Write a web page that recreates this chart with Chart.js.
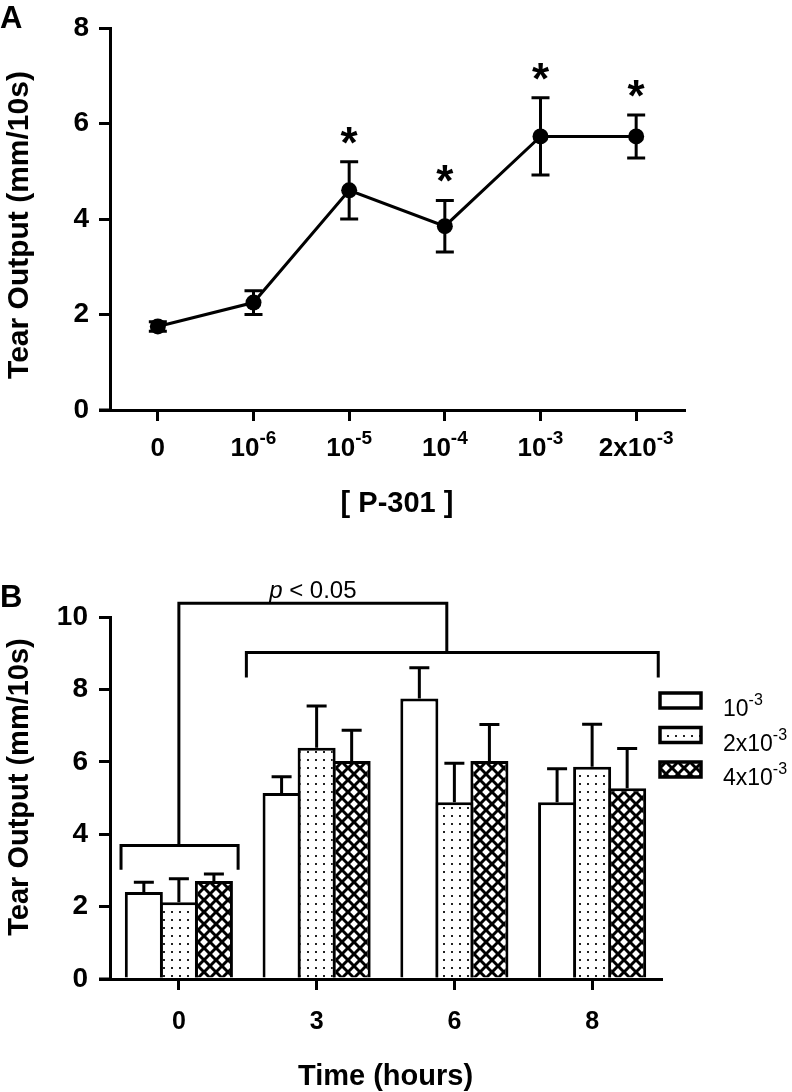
<!DOCTYPE html>
<html><head><meta charset="utf-8">
<script src="https://cdn.jsdelivr.net/npm/chart.js@4.4.1/dist/chart.umd.min.js"></script>
<style>
html,body{margin:0;padding:0;background:#fff;}
#wrap{position:relative;width:792px;height:1092px;overflow:hidden;}
canvas{position:absolute;left:0;}
#cA{top:0;}
#cB{top:540px;}
</style></head><body>
<div id="wrap"><canvas id="cA" width="792" height="540"></canvas><canvas id="cB" width="792" height="552"></canvas></div>
<script>
// ---------- Panel A data ----------
const concLabels = ['0', '10^-6', '10^-5', '10^-4', '10^-3', '2x10^-3'];
const tearMeanA  = [1.75, 2.25, 4.60, 3.85, 5.73, 5.73];
const tearErrA   = [0.10, 0.25, 0.60, 0.54, 0.81, 0.45];
const signifA    = ['', '', '*', '*', '*', '*'];
const yTicksA    = [0, 2, 4, 6, 8];

// ---------- Panel B data ----------
const timeLabels = ['0', '3', '6', '8'];
const doseLabels = ['10^-3', '2x10^-3', '4x10^-3'];
const dose1Mean  = [2.40, 5.14, 7.75, 4.88];
const dose2Mean  = [2.12, 6.39, 4.88, 5.86];
const dose3Mean  = [2.71, 6.02, 6.02, 5.27];
const dose1Err   = [0.27, 0.45, 0.85, 0.93];
const dose2Err   = [0.65, 1.15, 1.08, 1.18];
const dose3Err   = [0.19, 0.85, 1.01, 1.10];
const yTicksB    = [0, 2, 4, 6, 8, 10];
const pLabel     = ['p', ' < 0.05'];

// significance bracket geometry (category index / value units)
const bracketLow  = {x0: -0.42, x1: 0.43, y: 3.69, drop: 0.67};
const bracketHigh = {x0: 0.49, x1: 3.48, y: 9.02, drop: 0.69};
const bracketTopY = 10.38;

const FF = '"Liberation Sans", Arial, Helvetica, sans-serif';
Chart.defaults.font.family = FF;
Chart.defaults.color = '#000';

function drawSup(ctx, label, x, baseline, baseFont, supFont, raise, align) {
  const parts = label.split('^');
  const base = parts[0], sup = parts[1] || '';
  ctx.font = baseFont; const wb = ctx.measureText(base).width;
  ctx.font = supFont; const ws = ctx.measureText(sup).width;
  const start = align === 'center' ? x - (wb + ws) / 2 : x;
  ctx.textAlign = 'left'; ctx.textBaseline = 'alphabetic';
  ctx.font = baseFont; ctx.fillText(base, start, baseline);
  ctx.font = supFont; ctx.fillText(sup, start + wb, baseline - raise);
}

function makeDots() {
  const c = document.createElement('canvas'); c.width = 8; c.height = 8;
  const g = c.getContext('2d');
  g.fillStyle = '#fff'; g.fillRect(0, 0, 8, 8);
  g.fillStyle = '#222'; g.fillRect(3, 3, 2, 2);
  return g.createPattern(c, 'repeat');
}
function makeHatch() {
  const s = 12;
  const c = document.createElement('canvas'); c.width = s; c.height = s;
  const g = c.getContext('2d');
  g.fillStyle = '#fff'; g.fillRect(0, 0, s, s);
  g.strokeStyle = '#000'; g.lineWidth = 3;
  for (const o of [-s, 0, s]) {
    g.beginPath(); g.moveTo(o - 2, -2); g.lineTo(o + s + 2, s + 2); g.stroke();
    g.beginPath(); g.moveTo(o + s + 2, -2); g.lineTo(o - 2, s + 2); g.stroke();
  }
  return g.createPattern(c, 'repeat');
}

function axisExtension(chart) {
  const ctx = chart.ctx, a = chart.chartArea, y = chart.scales.y;
  ctx.save();
  ctx.strokeStyle = '#000'; ctx.lineWidth = 3;
  ctx.beginPath(); ctx.moveTo(a.left - 11, y.getPixelForValue(0)); ctx.lineTo(a.left, y.getPixelForValue(0)); ctx.stroke();
  ctx.restore();
}

// ---------------- Chart A ----------------
const plugA = {
  id: 'plugA',
  afterDraw(chart) {
    const ctx = chart.ctx, xs = chart.scales.x, ys = chart.scales.y, a = chart.chartArea;
    axisExtension(chart);
    ctx.save();
    ctx.fillStyle = '#000';
    concLabels.forEach((lab, i) => {
      drawSup(ctx, lab, xs.getPixelForValue(i), 456, 'bold 26px ' + FF, 'bold 19px ' + FF, 12, 'center');
    });
    ctx.textAlign = 'center'; ctx.textBaseline = 'alphabetic';
    ctx.font = 'bold 29px ' + FF;
    ctx.fillText('[ P-301 ]', (a.left + a.right) / 2, 512);
    ctx.save(); ctx.translate(28, (a.top + a.bottom) / 2 + 6); ctx.rotate(-Math.PI / 2);
    ctx.font = 'bold 30px ' + FF; ctx.fillText('Tear Output (mm/10s)', 0, 0); ctx.restore();
    ctx.textAlign = 'left'; ctx.font = 'bold 31px ' + FF; ctx.fillText('A', 0, 28);
    ctx.restore();
  },
  afterDatasetsDraw(chart) {
    const ctx = chart.ctx, xs = chart.scales.x, ys = chart.scales.y;
    ctx.save();
    ctx.strokeStyle = '#000'; ctx.fillStyle = '#000'; ctx.lineWidth = 3;
    tearMeanA.forEach((m, i) => {
      const x = xs.getPixelForValue(i);
      const yh = ys.getPixelForValue(m + tearErrA[i]);
      const yl = ys.getPixelForValue(m - tearErrA[i]);
      ctx.beginPath();
      ctx.moveTo(x, yh); ctx.lineTo(x, yl);
      ctx.moveTo(x - 9, yh); ctx.lineTo(x + 9, yh);
      ctx.moveTo(x - 9, yl); ctx.lineTo(x + 9, yl);
      ctx.stroke();
      if (signifA[i]) {
        ctx.font = 'bold 44px ' + FF; ctx.textAlign = 'center'; ctx.textBaseline = 'alphabetic';
        ctx.fillText(signifA[i], x, yh - 4);
      }
    });
    ctx.restore();
  }
};

new Chart(document.getElementById('cA'), {
  type: 'line',
  data: {
    labels: concLabels,
    datasets: [{
      data: tearMeanA,
      borderColor: '#000', borderWidth: 3, tension: 0,
      pointRadius: 8, pointBackgroundColor: '#000', pointBorderColor: '#000', pointBorderWidth: 0,
      fill: false
    }]
  },
  options: {
    responsive: false, animation: false, devicePixelRatio: 1,
    layout: { padding: { left: 0, top: 28, right: 108, bottom: 0 } },
    plugins: { legend: { display: false }, tooltip: { enabled: false } },
    scales: {
      x: {
        type: 'category', offset: true,
        grid: { display: true, drawOnChartArea: false, drawTicks: true, tickLength: 11, color: '#000', lineWidth: 3, offset: false },
        border: { display: true, color: '#000', width: 3 },
        ticks: { display: false },
        afterFit(s) { s.height = 130; }
      },
      y: {
        min: 0, max: 8,
        afterBuildTicks(s) { s.ticks = yTicksA.map(v => ({ value: v })); },
        grid: { display: true, drawOnChartArea: false, drawTicks: true, tickLength: 11, color: '#000', lineWidth: 3 },
        border: { display: true, color: '#000', width: 3 },
        ticks: { font: { size: 28, weight: 'bold' }, padding: 10, color: '#000' },
        afterFit(s) { s.width = 110; }
      }
    }
  },
  plugins: [plugA]
});

// ---------------- Chart B ----------------
const dotPat = makeDots();
const hatchPat = makeHatch();
const fills = ['#fff', dotPat, hatchPat];
const errsB = [dose1Err, dose2Err, dose3Err];

const plugB = {
  id: 'plugB',
  afterDatasetsDraw(chart) {
    const ctx = chart.ctx;
    ctx.save();
    ctx.strokeStyle = '#000'; ctx.lineWidth = 3;
    chart.data.datasets.forEach((ds, di) => {
      const meta = chart.getDatasetMeta(di);
      meta.data.forEach((bar, i) => {
        const ys = chart.scales.y;
        const yt = ys.getPixelForValue(ds.data[i] + errsB[di][i]);
        const yb = ys.getPixelForValue(ds.data[i]);
        ctx.beginPath();
        ctx.moveTo(bar.x, yb); ctx.lineTo(bar.x, yt);
        ctx.moveTo(bar.x - 10, yt); ctx.lineTo(bar.x + 10, yt);
        ctx.stroke();
      });
    });
    ctx.restore();
  },
  afterDraw(chart) {
    const ctx = chart.ctx, xs = chart.scales.x, ys = chart.scales.y, a = chart.chartArea;
    axisExtension(chart);
    ctx.save();
    ctx.strokeStyle = '#000'; ctx.fillStyle = '#000'; ctx.lineWidth = 3;
    const X = v => xs.getPixelForValue(v), Y = v => ys.getPixelForValue(v);
    [bracketLow, bracketHigh].forEach(b => {
      ctx.beginPath();
      ctx.moveTo(X(b.x0), Y(b.y - b.drop)); ctx.lineTo(X(b.x0), Y(b.y));
      ctx.lineTo(X(b.x1), Y(b.y)); ctx.lineTo(X(b.x1), Y(b.y - b.drop));
      ctx.stroke();
    });
    const xL = X(0), xR = X((bracketHigh.x0 + bracketHigh.x1) / 2 - 0.04);
    ctx.beginPath();
    ctx.moveTo(xL, Y(bracketLow.y)); ctx.lineTo(xL, Y(bracketTopY));
    ctx.lineTo(xR, Y(bracketTopY)); ctx.lineTo(xR, Y(bracketHigh.y));
    ctx.stroke();
    ctx.font = 'italic 24px ' + FF;
    const wp = ctx.measureText(pLabel[0]).width;
    ctx.font = '24px ' + FF;
    const wr = ctx.measureText(pLabel[1]).width;
    const cx = (xL + xR) / 2, sx = cx - (wp + wr) / 2;
    ctx.textAlign = 'left'; ctx.textBaseline = 'alphabetic';
    ctx.font = 'italic 24px ' + FF; ctx.fillText(pLabel[0], sx, 58);
    ctx.font = '24px ' + FF; ctx.fillText(pLabel[1], sx + wp, 58);
    doseLabels.forEach((lab, i) => {
      const top = 153 + i * 34.5;
      ctx.fillStyle = fills[i];
      ctx.fillRect(660, top, 41, 15);
      ctx.lineWidth = 3.5;
      ctx.strokeRect(660, top, 41, 15);
      ctx.fillStyle = '#000';
      drawSup(ctx, lab, 723, top + 23, '23px ' + FF, '16px ' + FF, 11, 'left');
    });
    ctx.textAlign = 'center'; ctx.textBaseline = 'alphabetic';
    ctx.font = 'bold 29px ' + FF;
    ctx.fillText('Time (hours)', (a.left + a.right) / 2, 545);
    ctx.save(); ctx.translate(28, (a.top + a.bottom) / 2 - 11); ctx.rotate(-Math.PI / 2);
    ctx.font = 'bold 29px ' + FF; ctx.fillText('Tear Output (mm/10s)', 0, 0); ctx.restore();
    ctx.textAlign = 'left'; ctx.font = 'bold 31px ' + FF; ctx.fillText('B', 0, 67);
    ctx.restore();
  }
};

new Chart(document.getElementById('cB'), {
  type: 'bar',
  data: {
    labels: timeLabels,
    datasets: [dose1Mean, dose2Mean, dose3Mean].map((d, i) => ({
      label: doseLabels[i],
      data: d,
      backgroundColor: fills[i],
      borderColor: '#000', borderWidth: 3, borderSkipped: 'bottom',
      categoryPercentage: 0.763, barPercentage: 38 / 35
    }))
  },
  options: {
    responsive: false, animation: false, devicePixelRatio: 1,
    layout: { padding: { left: 0, top: 77, right: 131, bottom: 0 } },
    plugins: { legend: { display: false }, tooltip: { enabled: false } },
    scales: {
      x: {
        type: 'category', offset: true,
        grid: { display: true, drawOnChartArea: false, drawTicks: true, tickLength: 11, color: '#000', lineWidth: 3, offset: false },
        border: { display: true, color: '#000', width: 3 },
        ticks: { font: { size: 25, weight: 'bold' }, padding: 17, color: '#000', maxRotation: 0 },
        afterFit(s) { s.height = 113; }
      },
      y: {
        min: 0, max: 10,
        afterBuildTicks(s) { s.ticks = yTicksB.map(v => ({ value: v })); },
        grid: { display: true, drawOnChartArea: false, drawTicks: true, tickLength: 11, color: '#000', lineWidth: 3 },
        border: { display: true, color: '#000', width: 3 },
        ticks: { font: { size: 28, weight: 'bold' }, padding: 11, color: '#000' },
        afterFit(s) { s.width = 110; }
      }
    }
  },
  plugins: [plugB]
});
</script>
</body></html>
